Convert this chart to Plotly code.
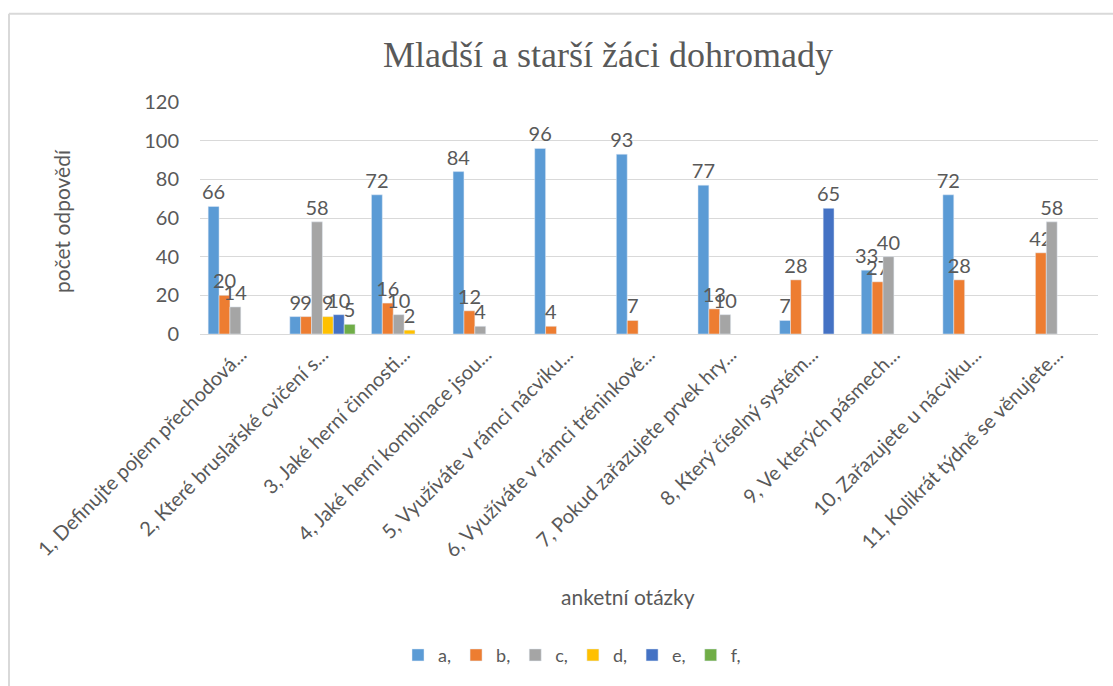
import plotly.graph_objects as go

categories = [
    "1, Definujte pojem přechodová...",
    "2, Které bruslařské cvičení s...",
    "3, Jaké herní činnosti...",
    "4, Jaké herní kombinace jsou...",
    "5, Využíváte v rámci nácviku...",
    "6, Využíváte v rámci tréninkové...",
    "7, Pokud zařazujete prvek hry...",
    "8, Který číselný systém...",
    "9, Ve kterých pásmech...",
    "10, Zařazujete u nácviku...",
    "11, Kolikrát týdně se věnujete...",
]
series_names = ["a,", "b,", "c,", "d,", "e,", "f,"]
a_vals = [66, 9, 72, 84, 96, 93, 77, 7, 33, 72, None]
b_vals = [20, 9, 16, 12, 4, 7, 13, 28, 27, 28, 42]
c_vals = [14, 58, 10, 4, None, None, 10, None, 40, None, 58]
d_vals = [None, 9, 2, None, None, None, None, None, None, None, None]
e_vals = [None, 10, None, None, None, None, None, 65, None, None, None]
f_vals = [None, 5, None, None, None, None, None, None, None, None, None]
colors = ["#5B9BD5", "#ED7D31", "#A5A5A5", "#FFC000", "#4472C4", "#70AD47"]

title_text = "Mladší a starší žáci dohromady"
y_title = "počet odpovědí"
x_title = "anketní otázky"

GREY = "#595959"
FONT = "Lato"

fig = go.Figure()
for name, vals, col in zip(series_names,
                           [a_vals, b_vals, c_vals, d_vals, e_vals, f_vals],
                           colors):
    fig.add_trace(go.Bar(
        name=name, x=categories, y=vals, marker_color=col,
        text=[("" if v is None else str(v)) for v in vals],
        textposition="outside", cliponaxis=False, constraintext="none",
        textfont=dict(size=20, color=GREY, family=FONT),
    ))

L, R, T, B = 200, 15, 102, 350
W, H = 1113, 686
pw = W - L - R
ph = H - T - B

def px(x):
    return (x - L) / pw

def py(y):
    return (H - B - y) / ph

fig.update_layout(
    width=W, height=H,
    margin=dict(l=L, r=R, t=T, b=B),
    paper_bgcolor="white", plot_bgcolor="white",
    barmode="group", bargap=0.2, bargroupgap=0,
    font=dict(family=FONT, color=GREY),
    showlegend=True,
    legend=dict(orientation="h", x=px(572), y=py(660), xanchor="center",
                yanchor="middle", font=dict(size=18, color=GREY, family=FONT),
                itemwidth=30, tracegroupgap=0),
    xaxis=dict(tickangle=-45, tickfont=dict(size=20, color=GREY, family=FONT),
               showline=True, linecolor="#D9D9D9", linewidth=1,
               showgrid=False, ticks="", automargin=False),
    yaxis=dict(range=[0, 120], dtick=20, showgrid=True, gridcolor="#D9D9D9",
               gridwidth=1, zeroline=False, showline=False,
               tickfont=dict(size=20, color=GREY, family=FONT), ticklen=0,
               ticks="", ticklabelstandoff=20, automargin=False),
    annotations=[
        dict(text=title_text, x=px(608), y=py(55), xref="paper", yref="paper",
             showarrow=False, xanchor="center", yanchor="middle",
             font=dict(family="Liberation Serif", size=36, color=GREY)),
        dict(text=y_title, x=px(62), y=py(222), xref="paper", yref="paper",
             showarrow=False, textangle=-90, xanchor="center", yanchor="middle",
             font=dict(family=FONT, size=21, color=GREY)),
        dict(text=x_title, x=px(628), y=py(601), xref="paper", yref="paper",
             showarrow=False, xanchor="center", yanchor="middle",
             font=dict(family=FONT, size=21, color=GREY)),
    ],
    shapes=[
        dict(type="line", xref="paper", yref="paper", x0=px(9), x1=px(9),
             y0=py(13), y1=py(700), line=dict(color="#D9D9D9", width=2)),
        dict(type="line", xref="paper", yref="paper", x0=px(9), x1=px(1200),
             y0=py(13), y1=py(13), line=dict(color="#D9D9D9", width=2)),
    ],
)

fig.write_html("out.html")
